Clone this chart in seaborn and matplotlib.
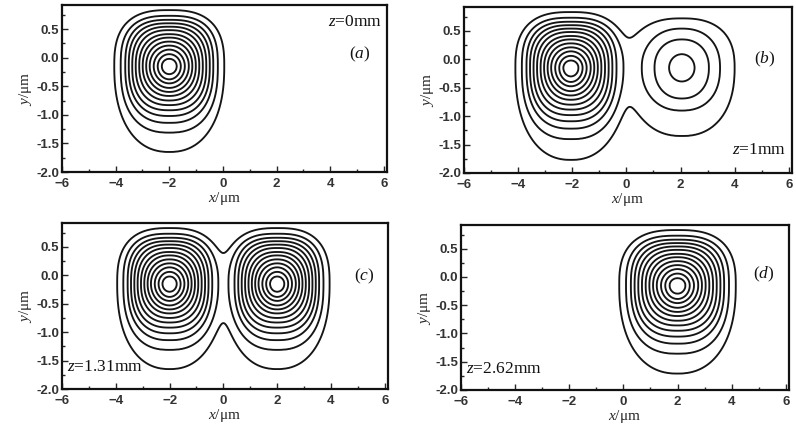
import numpy as np
import matplotlib
matplotlib.use('Agg')
import matplotlib.pyplot as plt
import seaborn as sns
from matplotlib.ticker import MultipleLocator

# --- contour levels (relative intensity), outermost ring first ---
levels = [0.07, 0.14, 0.21, 0.28, 0.35, 0.42, 0.50, 0.57, 0.64, 0.71, 0.78, 0.85, 0.93]

# --- main beam: ring extents, in um, outermost first ---
main_half_x = [2.05, 1.81, 1.64, 1.51, 1.38, 1.25, 1.12, 0.99, 0.86, 0.73, 0.58, 0.43, 0.28]
main_top = [0.98, 0.88, 0.81, 0.75, 0.69, 0.63, 0.56, 0.50, 0.43, 0.36, 0.29, 0.21, 0.13]
main_bottom = [1.50, 1.16, 0.99, 0.87, 0.77, 0.68, 0.60, 0.52, 0.45, 0.38, 0.30, 0.23, 0.14]
main_sq_top = [2.7, 2.8, 2.8, 2.7, 2.6, 2.5, 2.4, 2.3, 2.2, 2.1, 2.0, 2.0, 2.0]
main_sq_bottom = [2.3, 2.5, 2.5, 2.5, 2.5, 2.4, 2.3, 2.2, 2.1, 2.0, 2.0, 2.0, 2.0]
main_peak = 1.0
main_decay = 0.28

# --- weak beam of panel (b): its four rings ---
weak_half_x = [1.95, 1.41, 1.00, 0.47]
weak_top = [0.87, 0.69, 0.50, 0.24]
weak_bottom = [1.20, 0.75, 0.54, 0.24]
weak_sq_top = [2.5, 2.3, 2.2, 2.0]
weak_sq_bottom = [2.3, 2.3, 2.2, 2.0]
weak_peak = 0.33
weak_decay = 0.35

# --- panels ---
panel_tags = ['a', 'b', 'c', 'd']
panel_z = ['0mm', '1mm', '1.31mm', '2.62mm']
left_kind = ['main', 'main', 'main', None]
left_x = [-2.0, -2.05, -2.0, None]
right_kind = [None, 'weak', 'main', 'main']
right_x = [None, 2.05, 2.0, 2.0]
panel_width = [1.0, 1.0, 0.95, 1.05]
panel_depth = [1.0, 1.08, 1.0, 1.04]   # stretch of the main beam below its centre
beam_y = -0.15

profiles = {
    'main': (main_half_x, main_top, main_bottom, main_sq_top, main_sq_bottom,
             levels, main_peak, main_decay),
    'weak': (weak_half_x, weak_top, weak_bottom, weak_sq_top, weak_sq_bottom,
             levels[:4], weak_peak, weak_decay),
}


def ring_coord(dx, dy, hx, top, bot, pt, pb):
    # find the ring (by its half width) that passes through each point
    hx, top, bot, pt, pb = [np.asarray(a, float)[::-1] for a in (hx, top, bot, pt, pb)]
    k = np.r_[0.0, hx, 4 * hx[-1]]
    vt = np.r_[0.0, top, 4 * top[-1]]
    vb = np.r_[0.0, bot, 4 * bot[-1]]
    pt = np.r_[pt[0], pt, pt[-1]]
    pb = np.r_[pb[0], pb, pb[-1]]
    up = dy > 0
    lo = np.full(dx.shape, 1e-4)
    hi = np.full(dx.shape, k[-1])
    for _ in range(40):
        s = 0.5 * (lo + hi)
        v = np.where(up, np.interp(s, k, vt), np.interp(s, k, vb))
        p = np.where(up, np.interp(s, k, pt), np.interp(s, k, pb))
        f = (np.abs(dx) / s) ** p + (np.abs(dy) / v) ** p
        out = f > 1
        lo = np.where(out, s, lo)
        hi = np.where(out, hi, s)
    return 0.5 * (lo + hi)


def beam(X, Y, x0, kind, width, depth):
    hx, top, bot, pt, pb, lev, peak, decay = profiles[kind]
    dy = Y - beam_y
    if kind == 'main':
        dy = np.where(dy < 0, dy / depth, dy)
    s = ring_coord((X - x0) / width, dy, hx, top, bot, pt, pb)
    xp = np.r_[0.0, np.asarray(hx)[::-1]]
    fp = np.r_[peak, np.asarray(lev)[::-1]]
    inner = np.interp(s, xp, fp)
    tail = lev[0] * np.exp(-(s - hx[0]) / decay)
    return np.where(s > hx[0], tail, inner)


sns.set_style('ticks', {'xtick.direction': 'in', 'ytick.direction': 'in'})
plt.rcParams['font.family'] = ['Liberation Sans', 'DejaVu Sans']
plt.rcParams['mathtext.fontset'] = 'custom'
plt.rcParams['mathtext.it'] = 'Liberation Serif:italic'
plt.rcParams['mathtext.rm'] = 'Liberation Serif'

fig = plt.figure(figsize=(7.96, 4.26), dpi=100)
W, H = 796, 426
# spine boxes in pixels: left, right, top, bottom
boxes = [(62, 387, 5, 172), (464, 792, 7, 173), (62, 388, 223, 389), (461, 789, 225, 390)]

xs = np.linspace(-6, 6.15, 560)
ys = np.linspace(-2.0, 0.92, 300)
X, Y = np.meshgrid(xs, ys)

for i, (l, r, t, b) in enumerate(boxes):
    ax = fig.add_axes([l / W, (H - b) / H, (r - l) / W, (b - t) / H])
    field = np.zeros_like(X)
    if left_kind[i]:
        field += beam(X, Y, left_x[i], left_kind[i], panel_width[i], panel_depth[i])
    if right_kind[i]:
        field += beam(X, Y, right_x[i], right_kind[i], panel_width[i], panel_depth[i])
    ax.contour(X, Y, field, levels=levels, colors='#151515', linewidths=1.35)

    ax.set_xlim(-6, 6.12)
    ax.set_ylim(-2.0, 0.92)
    ax.xaxis.set_major_locator(MultipleLocator(2))
    ax.xaxis.set_minor_locator(MultipleLocator(1))
    ax.yaxis.set_major_locator(MultipleLocator(0.5))
    ax.yaxis.set_minor_locator(MultipleLocator(0.25))
    ax.tick_params(which='both', direction='in', top=False, right=False,
                   labelsize=9.5, labelcolor='#333333', width=1.0)
    ax.tick_params(axis='x', pad=4)
    ax.tick_params(axis='y', pad=2)
    ax.tick_params(which='major', length=4)
    ax.tick_params(which='minor', length=2)
    ax.set_yticks([0.5, 0.0, -0.5, -1.0, -1.5, -2.0])
    ax.set_yticklabels(['0.5', '0.0', '-0.5', '-1.0', '-1.5', '-2.0'])
    for lab in ax.get_xticklabels() + ax.get_yticklabels():
        lab.set_fontweight('bold')
    for sp in ax.spines.values():
        sp.set_linewidth(1.6)
        sp.set_color('#111111')

    ax.set_xlabel(r'$x$/μm', fontsize=11, family='Liberation Serif', labelpad=0)
    ax.set_ylabel(r'$y$/μm', fontsize=11, family='Liberation Serif', labelpad=2)

    tag = '(' + r'$' + panel_tags[i] + r'$' + ')'
    ztxt = r'$z$=' + panel_z[i]
    tfont = dict(family='Liberation Serif', fontsize=12.5, color='#111111')
    if i == 0:
        ax.text(5.95, 0.62, ztxt, ha='right', va='center', **tfont)
        ax.text(5.5, 0.05, tag, ha='right', va='center', **tfont)
    elif i == 1:
        ax.text(5.5, 0.0, tag, ha='right', va='center', **tfont)
        ax.text(5.9, -1.6, ztxt, ha='right', va='center', **tfont)
    else:
        ax.text(5.6, -0.02 if i == 2 else 0.05, tag, ha='right', va='center', **tfont)
        ax.text(-5.8, -1.62, ztxt, ha='left', va='center', **tfont)

fig.savefig('out.png', dpi=100)
